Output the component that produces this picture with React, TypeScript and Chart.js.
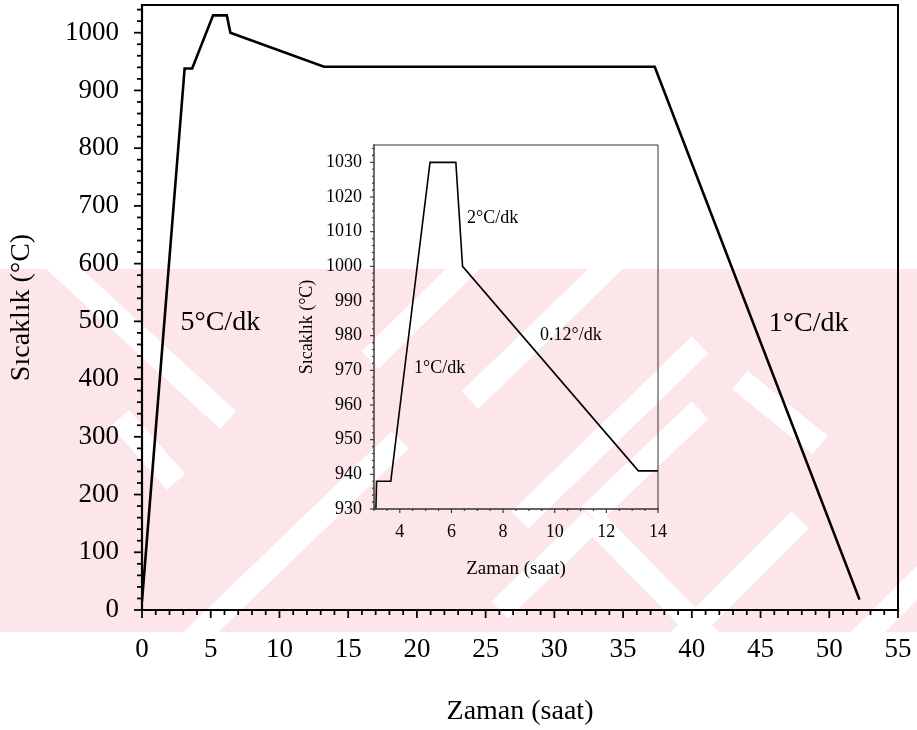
import { useEffect, useRef } from 'react';
import { Chart, registerables } from 'chart.js';

Chart.register(...registerables);

// ---- data ----
const timeHours = [0, 3.1, 3.65, 5.17, 6.17, 6.43, 13.24, 37.3, 52.2];
const tempC = [15, 938, 938, 1030, 1030, 1000, 941, 941, 18];

const mainXTicks = [0, 5, 10, 15, 20, 25, 30, 35, 40, 45, 50, 55];
const mainYTicks = [0, 100, 200, 300, 400, 500, 600, 700, 800, 900, 1000];
const insetXTicks = [4, 6, 8, 10, 12, 14];
const insetYTicks = [930, 940, 950, 960, 970, 980, 990, 1000, 1010, 1020, 1030];

const mainNoteText = ['5°C/dk', '1°C/dk'];
const mainNoteX = [2.8, 45.6];
const mainNoteY = [497, 496];
const insetNoteText = ['2°C/dk', '0.12°/dk', '1°C/dk'];
const insetNoteX = [6.6, 9.43, 4.55];
const insetNoteY = [1014, 980, 970.7];

const FONT = '"Liberation Serif", "Times New Roman", serif';
const INK = '#000000';

// watermark stripes (decoration, canvas pixels)
const PINK = '#fde6ea';
const stripes: [number, number, number, number][] = [
  [40, 247, 228, 420],
  [120, 418, 176, 482],
  [180, 652, 400, 440],
  [370, 360, 470, 262],
  [470, 400, 620, 255],
  [520, 520, 700, 345],
  [590, 515, 700, 410],
  [680, 640, 800, 520],
  [850, 650, 930, 570],
  [593, 520, 720, 650],
  [500, 610, 593, 520],
  [740, 380, 820, 445],
];

const watermarkPlugin = {
  id: 'watermark',
  beforeDraw(chart: any) {
    const { ctx, width, height } = chart;
    ctx.save();
    ctx.fillStyle = '#ffffff';
    ctx.fillRect(0, 0, width, height);
    ctx.fillStyle = PINK;
    ctx.fillRect(0, 269, width, 632 - 269);
    ctx.beginPath();
    ctx.rect(0, 269, width, 632 - 269);
    ctx.clip();
    ctx.strokeStyle = '#ffffff';
    ctx.lineWidth = 24;
    ctx.lineCap = 'butt';
    for (const [x1, y1, x2, y2] of stripes) {
      ctx.beginPath();
      ctx.moveTo(x1, y1);
      ctx.lineTo(x2, y2);
      ctx.stroke();
    }
    ctx.restore();
  },
};

function makeFramePlugin(cfg: {
  xMinor: number; xMajor: number; yMinor: number; yMajor: number;
  majorLen: number; minorLen: number; axisWidth: number; boxWidth: number; color: string;
  notes: string[]; noteX: number[]; noteY: number[]; noteSize: number;
}) {
  return {
    id: 'frameTicks',
    afterDraw(chart: any) {
      const { ctx, chartArea } = chart;
      const { left, right, top, bottom } = chartArea;
      const xs = chart.scales.x;
      const ys = chart.scales.y;
      ctx.save();
      ctx.strokeStyle = cfg.color;
      ctx.lineCap = 'square';
      ctx.lineWidth = cfg.boxWidth;
      ctx.beginPath();
      ctx.moveTo(left, top);
      ctx.lineTo(right, top);
      ctx.lineTo(right, bottom);
      ctx.stroke();
      ctx.lineWidth = cfg.axisWidth;
      ctx.beginPath();
      ctx.moveTo(left, top);
      ctx.lineTo(left, bottom);
      ctx.lineTo(right, bottom);
      ctx.stroke();
      ctx.lineCap = 'butt';
      ctx.lineWidth = Math.max(1, cfg.axisWidth * 0.8);
      const isMajor = (v: number, m: number) => Math.abs(v / m - Math.round(v / m)) < 1e-6;
      const nx = Math.round((xs.max - xs.min) / cfg.xMinor);
      for (let i = 0; i <= nx; i++) {
        const v = xs.min + i * cfg.xMinor;
        const px = xs.getPixelForValue(v);
        const len = isMajor(v, cfg.xMajor) ? cfg.majorLen : cfg.minorLen;
        ctx.beginPath();
        ctx.moveTo(px, bottom);
        ctx.lineTo(px, bottom + len);
        ctx.stroke();
      }
      const ny = Math.floor((ys.max - ys.min) / cfg.yMinor + 1e-6);
      for (let i = 0; i <= ny; i++) {
        const v = ys.min + i * cfg.yMinor;
        const py = ys.getPixelForValue(v);
        const len = isMajor(v, cfg.yMajor) ? cfg.majorLen : cfg.minorLen;
        ctx.beginPath();
        ctx.moveTo(left, py);
        ctx.lineTo(left - len, py);
        ctx.stroke();
      }
      ctx.fillStyle = INK;
      ctx.font = `${cfg.noteSize}px ${FONT}`;
      ctx.textAlign = 'left';
      ctx.textBaseline = 'middle';
      cfg.notes.forEach((t, i) => {
        ctx.fillText(t, xs.getPixelForValue(cfg.noteX[i]), ys.getPixelForValue(cfg.noteY[i]));
      });
      ctx.restore();
    },
  };
}

const points = timeHours.map((t, i) => ({ x: t, y: tempC[i] }));
const plain = (v: any) => String(v);

function fixX(height: number) {
  return (s: any) => {
    s.height = height;
    s.paddingLeft = 0;
    s.paddingRight = 0;
    s.paddingTop = 0;
    s.paddingBottom = 0;
  };
}
function fixY(width: number) {
  return (s: any) => {
    s.width = width;
    s.paddingLeft = 0;
    s.paddingRight = 0;
    s.paddingTop = 0;
    s.paddingBottom = 0;
  };
}

export default function App() {
  const mainRef = useRef<HTMLCanvasElement>(null);
  const insetRef = useRef<HTMLCanvasElement>(null);

  useEffect(() => {
    const main = new Chart(mainRef.current as HTMLCanvasElement, {
      type: 'line',
      data: {
        datasets: [{
          data: points,
          borderColor: INK,
          borderWidth: 2.6,
          pointRadius: 0,
          tension: 0,
          fill: false,
        }],
      },
      options: {
        animation: false,
        responsive: false,
        maintainAspectRatio: false,
        devicePixelRatio: 1,
        layout: { padding: { left: 0, top: 5, right: 19, bottom: 0 } },
        plugins: { legend: { display: false }, tooltip: { enabled: false } },
        scales: {
          x: {
            type: 'linear',
            min: 0,
            max: 55,
            border: { display: false },
            grid: { display: false, drawTicks: false },
            afterBuildTicks: (s: any) => { s.ticks = mainXTicks.map((v) => ({ value: v })); },
            afterFit: fixX(120),
            ticks: { color: INK, font: { family: FONT, size: 27 }, padding: 24, maxRotation: 0, autoSkip: false, callback: plain },
            title: { display: true, text: 'Zaman (saat)', color: INK, font: { family: FONT, size: 28 }, padding: { top: 0, bottom: 2 } },
          },
          y: {
            type: 'linear',
            min: 0,
            max: 1048,
            border: { display: false },
            grid: { display: false, drawTicks: false },
            afterBuildTicks: (s: any) => { s.ticks = mainYTicks.map((v) => ({ value: v })); },
            afterFit: fixY(142),
            ticks: { color: INK, font: { family: FONT, size: 27 }, padding: 23, autoSkip: false, callback: plain },
            title: { display: true, text: 'Sıcaklık (°C)', color: INK, font: { family: FONT, size: 28 }, padding: { top: 5, bottom: 0 } },
          },
        },
      },
      plugins: [
        watermarkPlugin,
        makeFramePlugin({
          xMinor: 1, xMajor: 5, yMinor: 20, yMajor: 100,
          majorLen: 8, minorLen: 5, axisWidth: 2.2, boxWidth: 2, color: INK,
          notes: mainNoteText, noteX: mainNoteX, noteY: mainNoteY, noteSize: 28,
        }),
      ],
    } as any);

    const inset = new Chart(insetRef.current as HTMLCanvasElement, {
      type: 'line',
      data: {
        datasets: [{
          data: points,
          borderColor: INK,
          borderWidth: 1.6,
          pointRadius: 0,
          tension: 0,
          fill: false,
        }],
      },
      options: {
        animation: false,
        responsive: false,
        maintainAspectRatio: false,
        devicePixelRatio: 1,
        layout: { padding: { left: 0, top: 10, right: 12, bottom: 0 } },
        plugins: { legend: { display: false }, tooltip: { enabled: false } },
        scales: {
          x: {
            type: 'linear',
            min: 3,
            max: 14,
            border: { display: false },
            grid: { display: false, drawTicks: false },
            afterBuildTicks: (s: any) => { s.ticks = insetXTicks.map((v) => ({ value: v })); },
            afterFit: fixX(76),
            ticks: { color: INK, font: { family: FONT, size: 18 }, padding: 12, maxRotation: 0, autoSkip: false, callback: plain },
            title: { display: true, text: 'Zaman (saat)', color: INK, font: { family: FONT, size: 19 }, padding: { top: 0, bottom: 5 } },
          },
          y: {
            type: 'linear',
            min: 930,
            max: 1035,
            border: { display: false },
            grid: { display: false, drawTicks: false },
            afterBuildTicks: (s: any) => { s.ticks = insetYTicks.map((v) => ({ value: v })); },
            afterFit: fixY(84),
            ticks: { color: INK, font: { family: FONT, size: 18 }, padding: 12, autoSkip: false, callback: plain },
            title: { display: true, text: 'Sıcaklık (°C)', color: INK, font: { family: FONT, size: 18 }, padding: { top: 6, bottom: 0 } },
          },
        },
      },
      plugins: [
        makeFramePlugin({
          xMinor: 0.5, xMajor: 2, yMinor: 2, yMajor: 10,
          majorLen: 4, minorLen: 2, axisWidth: 1.4, boxWidth: 1, color: '#333333',
          notes: insetNoteText, noteX: insetNoteX, noteY: insetNoteY, noteSize: 18,
        }),
      ],
    } as any);

    return () => {
      main.destroy();
      inset.destroy();
    };
  }, []);

  return (
    <div style={{ position: 'absolute', left: 0, top: 0, width: 917, height: 730, background: '#fff' }}>
      <canvas ref={mainRef} width={917} height={730} style={{ position: 'absolute', left: 0, top: 0, width: 917, height: 730 }} />
      <canvas ref={insetRef} width={380} height={450} style={{ position: 'absolute', left: 290, top: 135, width: 380, height: 450 }} />
    </div>
  );
}
